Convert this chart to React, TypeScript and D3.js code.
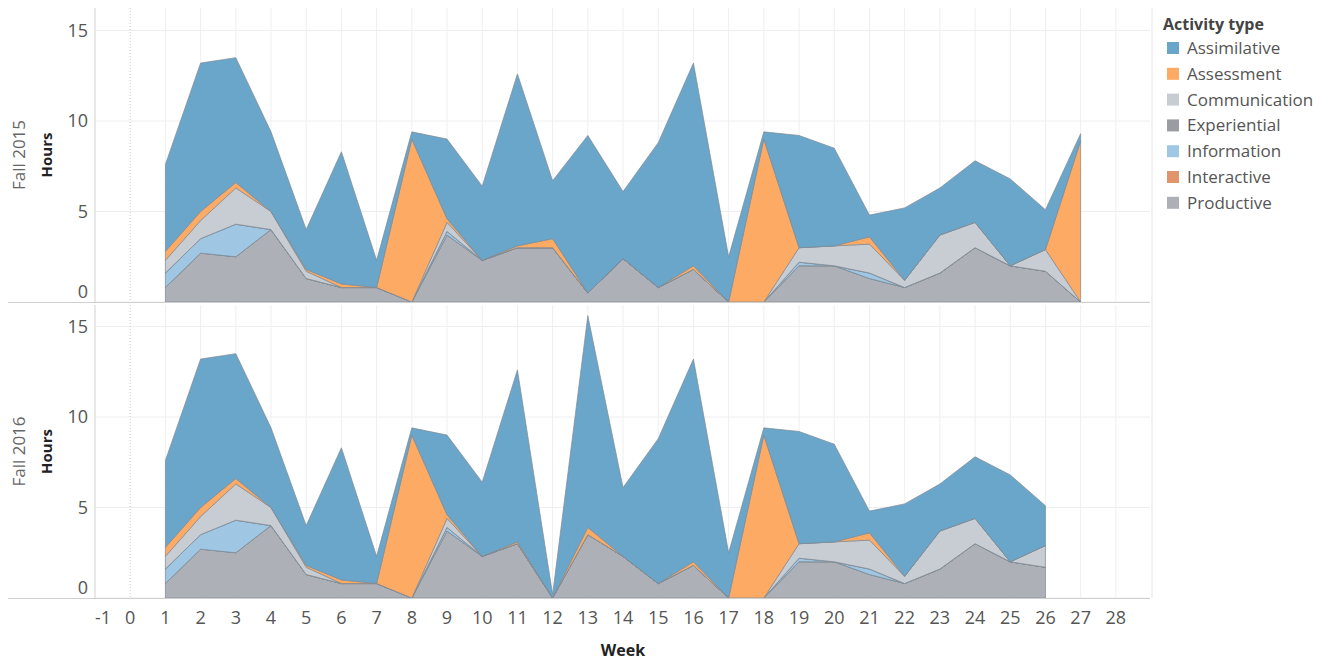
import * as React from "react";
import { scaleLinear, area as d3Area, stack as d3Stack, stackOrderNone, stackOffsetNone } from "d3";

const weeks1 = [1, 2, 3, 4, 5, 6, 7, 8, 9, 10, 11, 12, 13, 14, 15, 16, 17, 18, 19, 20, 21, 22, 23, 24, 25, 26, 27];
const weeks2 = [1, 2, 3, 4, 5, 6, 7, 8, 9, 10, 11, 12, 13, 14, 15, 16, 17, 18, 19, 20, 21, 22, 23, 24, 25, 26];

// stacking order, bottom to top
const activityKeys = ["Productive", "Interactive", "Information", "Experiential", "Communication", "Assessment", "Assimilative"];
const legendKeys = ["Assimilative", "Assessment", "Communication", "Experiential", "Information", "Interactive", "Productive"];
const colors: Record<string, string> = {
  Assimilative: "#6aa5ca",
  Assessment: "#fdab64",
  Communication: "#c8ccd3",
  Experiential: "#9a9ca2",
  Information: "#9fc7e3",
  Interactive: "#e0956a",
  Productive: "#adb0b7",
};

// Fall 2015
const productive15 = [0.8, 2.7, 2.5, 4.0, 1.3, 0.8, 0.8, 0, 3.7, 2.3, 3.0, 3.0, 0.5, 2.4, 0.8, 1.8, 0, 0, 2.0, 2.0, 1.3, 0.8, 1.6, 3.0, 2.0, 1.7, 0];
const interactive15 = [0, 0, 0, 0, 0, 0, 0, 0, 0, 0, 0, 0, 0, 0, 0, 0, 0, 0, 0, 0, 0, 0, 0, 0, 0, 0, 0];
const information15 = [0.8, 0.8, 1.8, 0, 0, 0, 0, 0, 0.2, 0, 0, 0, 0, 0, 0, 0, 0, 0, 0.2, 0, 0.3, 0, 0, 0, 0, 0, 0];
const experiential15 = [0, 0, 0, 0, 0, 0, 0, 0, 0, 0, 0, 0, 0, 0, 0, 0, 0, 0, 0, 0, 0, 0, 0, 0, 0, 0, 0];
const communication15 = [0.7, 1.0, 2.0, 1.0, 0.4, 0, 0, 0, 0.5, 0, 0, 0, 0, 0, 0, 0, 0, 0, 0.8, 1.1, 1.6, 0.4, 2.1, 1.4, 0, 1.2, 0];
const assessment15 = [0.5, 0.5, 0.3, 0, 0.1, 0.2, 0, 9.0, 0.2, 0, 0.1, 0.5, 0, 0, 0, 0.2, 0, 9.0, 0, 0, 0.4, 0, 0, 0, 0, 0, 8.9];
const assimilative15 = [4.8, 8.2, 6.9, 4.4, 2.2, 7.3, 1.5, 0.4, 4.4, 4.1, 9.5, 3.2, 8.7, 3.7, 8.0, 11.2, 2.5, 0.4, 6.2, 5.4, 1.2, 4.0, 2.6, 3.4, 4.8, 2.2, 0.4];

// Fall 2016
const productive16 = [0.8, 2.7, 2.5, 4.0, 1.3, 0.8, 0.8, 0, 3.7, 2.3, 3.0, 0, 3.5, 2.3, 0.8, 1.8, 0, 0, 2.0, 2.0, 1.3, 0.8, 1.6, 3.0, 2.0, 1.7];
const interactive16 = [0, 0, 0, 0, 0, 0, 0, 0, 0, 0, 0, 0, 0, 0, 0, 0, 0, 0, 0, 0, 0, 0, 0, 0, 0, 0];
const information16 = [0.8, 0.8, 1.8, 0, 0, 0, 0, 0, 0.2, 0, 0, 0, 0, 0, 0, 0, 0, 0, 0.2, 0, 0.3, 0, 0, 0, 0, 0];
const experiential16 = [0, 0, 0, 0, 0, 0, 0, 0, 0, 0, 0, 0, 0, 0, 0, 0, 0, 0, 0, 0, 0, 0, 0, 0, 0, 0];
const communication16 = [0.7, 1.0, 2.0, 1.0, 0.4, 0, 0, 0, 0.5, 0, 0, 0, 0, 0, 0, 0, 0, 0, 0.8, 1.1, 1.6, 0.4, 2.1, 1.4, 0, 1.2];
const assessment16 = [0.5, 0.5, 0.3, 0, 0.1, 0.2, 0, 9.0, 0.2, 0, 0.1, 0, 0.4, 0, 0, 0.2, 0, 9.0, 0, 0, 0.4, 0, 0, 0, 0, 0];
const assimilative16 = [4.8, 8.2, 6.9, 4.4, 2.2, 7.3, 1.5, 0.4, 4.4, 4.1, 9.5, 0.2, 11.7, 3.8, 8.0, 11.2, 2.5, 0.4, 6.2, 5.4, 1.2, 4.0, 2.6, 3.4, 4.8, 2.2];

const weekTicks = [-1, 0, 1, 2, 3, 4, 5, 6, 7, 8, 9, 10, 11, 12, 13, 14, 15, 16, 17, 18, 19, 20, 21, 22, 23, 24, 25, 26, 27, 28];
const hourTicks = [0, 5, 10, 15];

const buildRows = (weeks: number[], cols: number[][]) =>
  weeks.map((w, i) => {
    const r: any = { week: w };
    activityKeys.forEach((k, j) => (r[k] = cols[j][i]));
    return r;
  });

const rows15 = buildRows(weeks1, [productive15, interactive15, information15, experiential15, communication15, assessment15, assimilative15]);
const rows16 = buildRows(weeks2, [productive16, interactive16, information16, experiential16, communication16, assessment16, assimilative16]);

const left = 95;
const right = 1150;
const x = scaleLinear().domain([-1, 28.97]).range([left, right]);
const font = "'Open Sans', 'Noto Sans', sans-serif";

const Panel = ({ rows, top, bottom, label }: { rows: any[]; top: number; bottom: number; label: string }) => {
  const y = scaleLinear().domain([0, 15]).range([bottom, bottom - 15 * 18.1]);
  const series = d3Stack().keys(activityKeys).order(stackOrderNone).offset(stackOffsetNone)(rows);
  const ar = d3Area<any>()
    .x((d) => x(d.data.week))
    .y0((d) => y(d[0]))
    .y1((d) => y(d[1]));
  const mid = (top + bottom) / 2;
  return (
    <g>
      {hourTicks.map((t) => (
        <line key={t} x1={left} x2={right} y1={y(t)} y2={y(t)} stroke="#eeeeee" />
      ))}
      {weekTicks.map((w) => (
        <line key={w} x1={x(w)} x2={x(w)} y1={top} y2={bottom} stroke={w === 0 ? "#cccccc" : "#efefef"} strokeDasharray={w === 0 ? "1,2" : undefined} />
      ))}
      {series.map((s) => (
        <path key={s.key} d={ar(s) || ""} fill={colors[s.key]} stroke="#7f8a94" strokeOpacity={0.7} strokeWidth={1} strokeLinejoin="round" />
      ))}
      <line x1={left} x2={left} y1={top} y2={bottom} stroke="#d9d9d9" />
      <line x1={8} x2={right} y1={bottom + 0.5} y2={bottom + 0.5} stroke="#cfcfcf" />
      {hourTicks.map((t) => (
        <text key={t} x={88} y={t === 0 ? y(t) - 10 : y(t)} dy="0.35em" textAnchor="end" fontSize={18} fill="#555" fontFamily={font}>
          {t}
        </text>
      ))}
      <text transform={`translate(25,${mid}) rotate(-90)`} textAnchor="middle" fontSize={17} fill="#666" fontFamily={font}>
        {label}
      </text>
      <text transform={`translate(52,${mid}) rotate(-90)`} textAnchor="middle" fontSize={15} fontWeight="bold" fill="#222" fontFamily={font}>
        Hours
      </text>
    </g>
  );
};

export default function App() {
  return (
    <svg width={1335} height={660} style={{ position: "absolute", left: 0, top: 0, background: "#fff" }}>
      <Panel rows={rows15} top={8} bottom={302} label="Fall 2015" />
      <Panel rows={rows16} top={305} bottom={598} label="Fall 2016" />
      {weekTicks.map((w) => (
        <text key={w} x={w === -1 ? x(w) + 8 : x(w)} y={618} dy="0.35em" textAnchor="middle" fontSize={18} fill="#555" fontFamily={font}>
          {w}
        </text>
      ))}
      <text x={623} y={650} dy="0.35em" textAnchor="middle" fontSize={16} fontWeight="bold" fill="#222" fontFamily={font}>
        Week
      </text>
      <line x1={1152} x2={1152} y1={8} y2={598} stroke="#e6e6e6" />
      <text x={1163} y={24} dy="0.35em" fontSize={16} fontWeight="bold" fill="#444" fontFamily={font}>
        Activity type
      </text>
      {legendKeys.map((k, i) => (
        <g key={k} transform={`translate(0,${48 + i * 25.8})`}>
          <rect x={1167} y={-6} width={12} height={12} fill={colors[k]} />
          <text x={1187} y={0} dy="0.35em" fontSize={17} fill="#555" fontFamily={font}>
            {k}
          </text>
        </g>
      ))}
    </svg>
  );
}
